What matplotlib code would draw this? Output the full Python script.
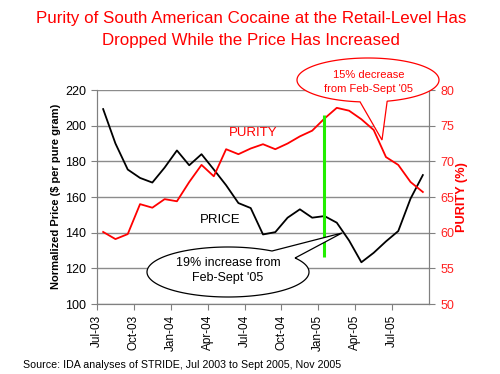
import matplotlib
matplotlib.use('Agg')
import matplotlib.pyplot as plt
from matplotlib.patches import Polygon
import numpy as np

months = ['Jul-03', 'Aug-03', 'Sep-03', 'Oct-03', 'Nov-03', 'Dec-03',
          'Jan-04', 'Feb-04', 'Mar-04', 'Apr-04', 'May-04', 'Jun-04',
          'Jul-04', 'Aug-04', 'Sep-04', 'Oct-04', 'Nov-04', 'Dec-04',
          'Jan-05', 'Feb-05', 'Mar-05', 'Apr-05', 'May-05', 'Jun-05',
          'Jul-05', 'Aug-05', 'Sep-05']
price = [209.3, 190.0, 175.4, 170.7, 168.1, 176.5, 186.1, 177.8, 184.0,
         175.4, 166.6, 156.6, 153.8, 139.0, 140.3, 148.4, 153.1, 148.4,
         149.3, 145.6, 135.6, 123.4, 128.7, 135.1, 140.9, 159.1, 172.3]
purity = [60.1, 59.1, 59.8, 64.0, 63.5, 64.7, 64.4, 67.1, 69.5,
          67.9, 71.7, 71.0, 71.8, 72.4, 71.7, 72.5, 73.5, 74.3,
          76.0, 77.5, 77.1, 75.9, 74.4, 70.6, 69.5, 67.1, 65.7]
tick_labels = ['Jul-03', 'Oct-03', 'Jan-04', 'Apr-04', 'Jul-04',
               'Oct-04', 'Jan-05', 'Apr-05', 'Jul-05']
marker_month = 'Jan-05'
marker_range = (56.6, 76.5)

plt.rcParams['font.family'] = ['Liberation Sans', 'DejaVu Sans']

W, H = 500, 374
fig = plt.figure(figsize=(W / 100, H / 100), dpi=100)

def fx(px):
    return px / W

def fy(py):
    return 1 - py / H

ax = fig.add_axes([fx(97), fy(304), fx(429) - fx(97), fy(90) - fy(304)])
x = np.arange(len(price)) + 0.5
ax.plot(x, price, color='black', lw=1.3, zorder=3)
ax.set_xlim(0, len(months))
ax.set_ylim(100, 220)
ax.set_yticks(np.arange(100, 221, 20))
ax.grid(axis='y', color='#8c8c8c', lw=1)
ax.set_axisbelow(True)
tick_pos = [months.index(t) for t in tick_labels]
ax.set_xticks(tick_pos)
ax.set_xticklabels(tick_labels, rotation=90, fontsize=8.5)
ax.tick_params(axis='x', length=4, color='#808080', pad=4)
ax.tick_params(axis='y', length=4, color='#808080', labelsize=9, pad=4)
ax.spines['top'].set_visible(False)
for s in ['left', 'bottom', 'right']:
    ax.spines[s].set_color('#808080')

ax2 = ax.twinx()
ax2.plot(x, purity, color='#ff0000', lw=1.3, zorder=3)
ax2.set_ylim(50, 80)
ax2.set_yticks(np.arange(50, 81, 5))
ax2.tick_params(axis='y', length=4, color='#808080', labelsize=9,
                labelcolor='#ff2020', pad=4)
ax2.spines['top'].set_visible(False)
for s in ['left', 'bottom', 'right']:
    ax2.spines[s].set_color('#808080')
mi = months.index(marker_month) + 0.5
ax2.vlines(mi, marker_range[0], marker_range[1], color='#22ee00', lw=2.2, zorder=4)

# labels
fig.text(fx(56), fy(196), 'Normalized Price ($ per pure gram)', rotation=90,
         ha='center', va='center', fontsize=8, fontweight='bold', color='black')
fig.text(fx(462), fy(197), 'PURITY (%)', rotation=90, ha='center', va='center',
         fontsize=9.2, fontweight='bold', color='#ff0000')
fig.text(fx(253), fy(133), 'PURITY', ha='center', va='center', fontsize=9.5,
         color='#ff0000')
fig.text(fx(220), fy(220), 'PRICE', ha='center', va='center', fontsize=9.5,
         color='black')

fig.text(fx(251), fy(18), 'Purity of South American Cocaine at the Retail-Level Has',
         ha='center', va='center', fontsize=12.2, color='#ff0000')
fig.text(fx(251), fy(40), 'Dropped While the Price Has Increased',
         ha='center', va='center', fontsize=12.2, color='#ff0000')
fig.text(fx(23), fy(365), 'Source: IDA analyses of STRIDE, Jul 2003 to Sept 2005, Nov 2005',
         ha='left', va='center', fontsize=7.65, color='black')


def callout(cx, cy, a, b, p1, p2, tip, ec):
    t1 = np.arctan2((p1[1] - cy) / b, (p1[0] - cx) / a)
    t2 = np.arctan2((p2[1] - cy) / b, (p2[0] - cx) / a)
    d = (t2 - t1) % (2 * np.pi)
    if d > np.pi:
        ts = np.linspace(t1, t1 + d, 240)
    else:
        d2 = (t1 - t2) % (2 * np.pi)
        ts = np.linspace(t2, t2 + d2, 240)
    pts = [(cx + a * np.cos(t), cy + b * np.sin(t)) for t in ts]
    pts.append(tip)
    pts = [(fx(px), fy(py)) for px, py in pts]
    poly = Polygon(pts, closed=True, facecolor='white', edgecolor=ec, lw=0.9,
                   transform=fig.transFigure, zorder=5)
    fig.add_artist(poly)


# red callout (purity)
callout(368, 80, 71, 22, (360, 102), (387, 101), (382, 140), '#ff0000')
fig.text(fx(369), fy(75), '15% decrease', ha='center', va='center',
         fontsize=8, color='#ff0000', zorder=6)
fig.text(fx(369), fy(89), "from Feb-Sept '05", ha='center', va='center',
         fontsize=8, color='#ff0000', zorder=6)

# black callout (price)
callout(228, 272, 81, 25, (295, 258), (272, 251), (342, 233), 'black')
fig.text(fx(228), fy(263), '19% increase from', ha='center', va='center',
         fontsize=9, color='black', zorder=6)
fig.text(fx(228), fy(278), "Feb-Sept '05", ha='center', va='center',
         fontsize=9, color='black', zorder=6)

fig.savefig('out.png', dpi=100)
